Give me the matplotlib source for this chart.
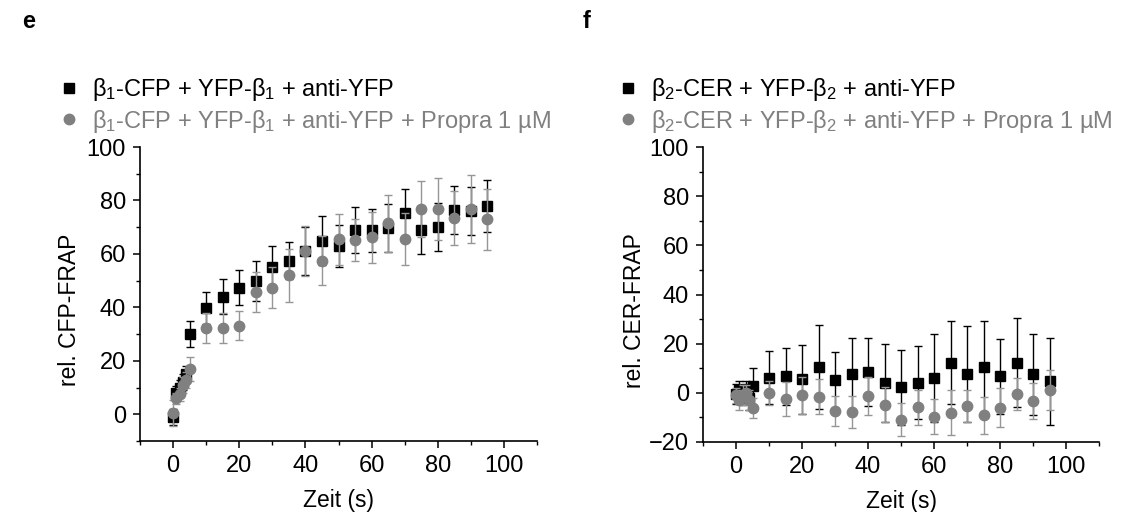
import matplotlib
matplotlib.use("Agg")
import matplotlib.pyplot as plt
from matplotlib.ticker import MultipleLocator
from matplotlib.lines import Line2D

plt.rcParams['font.family'] = ['Liberation Sans', 'DejaVu Sans']
plt.rcParams['mathtext.fontset'] = 'custom'
plt.rcParams['mathtext.rm'] = 'Liberation Sans'
plt.rcParams['mathtext.it'] = 'Liberation Sans'
plt.rcParams['mathtext.bf'] = 'Liberation Sans:bold'

# Time points (s)
time = [0, 1, 2, 3, 4, 5, 10, 15, 20, 25, 30, 35, 40, 45, 50,
        55, 60, 65, 70, 75, 80, 85, 90, 95]

# Panel e: beta1 FRAP recovery (%)
e_ctrl = [-1, 8, 10, 12, 15, 30, 39.6, 44, 47.4, 50, 55.2, 57.5, 61, 65, 63,
          68.8, 68.9, 69.8, 75.2, 69.1, 70.2, 76.4, 76.2, 78]
e_ctrl_err = [3, 2.5, 3, 3, 3, 5, 6, 6.5, 6.7, 7.5, 7.8, 7, 9, 9, 8,
              8.6, 8, 9, 9, 9, 9, 9, 9, 9.7]
e_prop = [0.5, 6, 7.5, 11, 13, 17, 32.4, 32.4, 33.2, 45.9, 47.4, 52, 61.1, 57.5, 65.4,
          65.2, 66.2, 71.4, 65.5, 76.8, 76.9, 73.5, 76.8, 73]
e_prop_err = [5, 2, 2.5, 3, 3, 4.4, 5.6, 5.6, 5.4, 7.5, 7.6, 10, 9.4, 9.2, 9.7,
              8, 9.5, 10.5, 9.8, 10.5, 11.6, 10, 12.6, 11.4]

# Panel f: beta2 FRAP recovery (%)
f_ctrl = [-0.5, 1, -1, 1.5, -2, 2.6, 6.2, 6.8, 5.5, 10.5, 5.3, 7.8, 8.5, 4.1, 2.2,
          4.1, 6, 12.3, 7.7, 10.5, 6.7, 12.3, 7.5, 4.7]
f_ctrl_err = [4, 4, 4, 3.5, 5, 7.5, 10.7, 11.6, 14, 17.2, 11.5, 14.6, 14, 15.8, 15.4,
              14.8, 17.9, 17, 19.6, 18.7, 15.2, 18.1, 16.4, 17.7]
f_prop = [-1, -3, -1, 0, -3, -6.2, 0, -2.5, -1, -1.6, -7.4, -7.8, -1.3, -4.8, -11,
          -5.8, -9.8, -8, -5.2, -9.2, -6, -0.6, -3.4, 1.2]
f_prop_err = [3, 4, 4, 3, 4, 4.2, 5, 7, 7.5, 7.1, 6.1, 6.6, 7.6, 7, 6.7,
              7.1, 7.1, 9.2, 6.5, 7.4, 8.1, 6.5, 7.3, 8]

e_labels = [r'$\beta_1$-CFP + YFP-$\beta_1$ + anti-YFP',
            r'$\beta_1$-CFP + YFP-$\beta_1$ + anti-YFP + Propra 1 µM']
f_labels = [r'$\beta_2$-CER + YFP-$\beta_2$ + anti-YFP',
            r'$\beta_2$-CER + YFP-$\beta_2$ + anti-YFP + Propra 1 µM']

BLACK = '#000000'
GRAY = '#808080'
GRAY_ERR = '#969696'
W, H = 1121, 512
FS = 16.5

fig = plt.figure(figsize=(W / 100, H / 100), dpi=100)


def panel(rect, ctrl, ctrl_err, prop, prop_err, ylabel, ylim, labels,
          letter, letter_x, legend_x, ylabel_x):
    ax = fig.add_axes([rect[0] / W, 1 - rect[3] / H,
                       (rect[2] - rect[0]) / W, (rect[3] - rect[1]) / H])
    ax.errorbar(time, ctrl, yerr=ctrl_err, fmt='s', color=BLACK, ecolor=BLACK,
                ms=6.5, elinewidth=1.0, capsize=3, capthick=1.0, zorder=3)
    ax.errorbar(time, prop, yerr=prop_err, fmt='o', color=GRAY, ecolor=GRAY_ERR,
                ms=7.5, elinewidth=1.0, capsize=3, capthick=1.0, zorder=4)
    ax.set_xlim(-10, 110)
    ax.set_ylim(*ylim)
    ax.xaxis.set_major_locator(MultipleLocator(20))
    ax.xaxis.set_minor_locator(MultipleLocator(10))
    ax.yaxis.set_major_locator(MultipleLocator(20))
    ax.yaxis.set_minor_locator(MultipleLocator(10))
    for s in ('top', 'right'):
        ax.spines[s].set_visible(False)
    for s in ('left', 'bottom'):
        ax.spines[s].set_linewidth(1.2)
    ax.tick_params(which='major', direction='out', length=5, width=1.1,
                   labelsize=17, pad=5)
    ax.tick_params(which='minor', direction='out', length=3, width=1.0)
    ax.set_xlabel('Zeit (s)', fontsize=FS, labelpad=9)
    ax.set_ylabel(ylabel, fontsize=FS)
    ax.yaxis.set_label_coords(ylabel_x, 0.445)
    handles = [Line2D([], [], marker='s', ls='none', color=BLACK, ms=6.5),
               Line2D([], [], marker='o', ls='none', color=GRAY, ms=7.5)]
    leg = fig.legend(handles, labels, loc='upper left',
                     bbox_to_anchor=(legend_x / W, 1 - 64 / H),
                     frameon=False, fontsize=17, handletextpad=0.5,
                     labelspacing=0.2, borderpad=0, handlelength=1.0)
    leg.get_texts()[1].set_color(GRAY)
    fig.text(letter_x / W, 1 - 22 / H, letter, fontsize=17, fontweight='bold',
             va='center', ha='left')
    return ax


panel((140, 147, 537, 441), e_ctrl, e_ctrl_err, e_prop, e_prop_err,
      'rel. CFP-FRAP', (-10, 100), e_labels, 'e', 22, 45, -0.148)
panel((703, 147, 1099, 442), f_ctrl, f_ctrl_err, f_prop, f_prop_err,
      'rel. CER-FRAP', (-20, 100), f_labels, 'f', 583, 604, -0.143)

fig.savefig('out.png', dpi=100)
